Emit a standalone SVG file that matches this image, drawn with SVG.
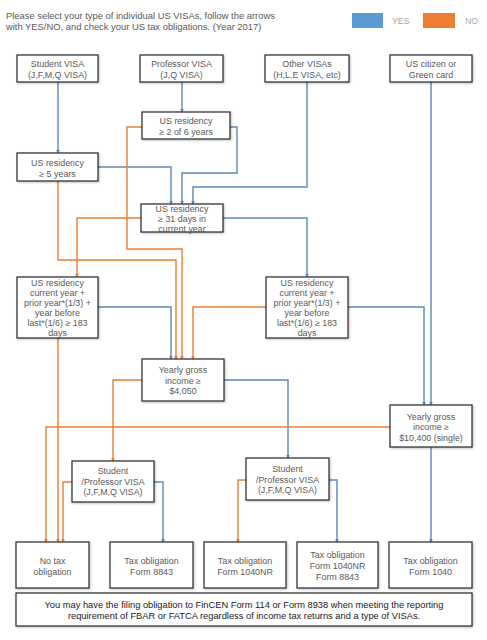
<svg xmlns="http://www.w3.org/2000/svg" width="487" height="640" viewBox="0 0 487 640">
<style>
.box{fill:#fff;stroke:#262626;stroke-width:1.2;filter:url(#sh)}
.t{font-family:"Liberation Sans",Arial,sans-serif;font-size:8.9px;fill:#595959;text-anchor:middle}
.hd{font-family:"Liberation Sans",Arial,sans-serif;font-size:9.4px;fill:#595959}
.ft{font-family:"Liberation Sans",Arial,sans-serif;font-size:9.3px;fill:#1a1a1a;text-anchor:middle}
.y{fill:none;stroke:#5b87bd;stroke-width:1.4;marker-end:url(#ab)}
.n{fill:none;stroke:#ed7d31;stroke-width:1.4;marker-end:url(#ao)}
</style>
<defs>
<filter id="sh" x="-10%" y="-10%" width="130%" height="130%"><feDropShadow dx="1" dy="1" stdDeviation="0.8" flood-color="#000" flood-opacity="0.25"/></filter>
<marker id="ab" viewBox="0 0 6 6" refX="5" refY="3" markerWidth="4" markerHeight="4" orient="auto" markerUnits="userSpaceOnUse"><path d="M0,0 L6,3 L0,6 z" fill="#5b87bd"/></marker>
<marker id="ao" viewBox="0 0 6 6" refX="5" refY="3" markerWidth="4" markerHeight="4" orient="auto" markerUnits="userSpaceOnUse"><path d="M0,0 L6,3 L0,6 z" fill="#ed7d31"/></marker>
</defs>
<rect width="487" height="640" fill="#fff"/>
<g id="header">
<text class="hd" x="6" y="19">Please select your type of individual US VISAs, follow the arrows</text>
<text class="hd" x="6" y="30">with YES/NO, and check your US tax obligations. (Year 2017)</text>
</g>
<g id="legend">
<rect x="352" y="13" width="31" height="15" fill="#5b9bd5"/>
<text x="392" y="24" font-family="Liberation Sans, Arial, sans-serif" font-size="8.8" fill="#a6a6a6">YES</text>
<rect x="423" y="13" width="32" height="15" fill="#ed7d31"/>
<text x="465" y="24" font-family="Liberation Sans, Arial, sans-serif" font-size="8.8" fill="#a6a6a6">NO</text>
</g>
<g id="connectors">
<path class="y" d="M58,82 V153"/>
<path class="y" d="M182,82 V112"/>
<path class="y" d="M230,127 H237 V173 H182 V204"/>
<path class="y" d="M98,167 H171 V204"/>
<path class="y" d="M307,82 V187 H193 V204"/>
<path class="y" d="M223,218 H307 V277"/>
<path class="y" d="M98,307 H171 V359"/>
<path class="y" d="M348,307 H424 V405"/>
<path class="y" d="M431,82 V405"/>
<path class="y" d="M224,380 H288 V458"/>
<path class="y" d="M431,447 V542"/>
<path class="y" d="M154,482 H163 V542"/>
<path class="y" d="M329,480 H337 V542"/>
<path class="n" d="M142,127 H127 V249 H182 V359"/>
<path class="n" d="M58,181 V260 H176 V359"/>
<path class="n" d="M141,218 H77 V277"/>
<path class="n" d="M58,338 V542"/>
<path class="n" d="M266,307 H193 V359"/>
<path class="n" d="M142,380 H113 V461"/>
<path class="n" d="M390,427 H46 V542"/>
<path class="n" d="M72,482 H63 V542"/>
<path class="n" d="M246,480 H238 V542"/>
</g>
<g id="student">
<rect class="box" x="17" y="55" width="81" height="27"/>
<text class="t" x="57.5" y="67">Student VISA</text>
<text class="t" x="57.5" y="77.5">(J,F,M,Q VISA)</text>
</g>
<g id="professor">
<rect class="box" x="140" y="55" width="83" height="27"/>
<text class="t" x="181.5" y="67">Professor VISA</text>
<text class="t" x="181.5" y="77.5">(J,Q VISA)</text>
</g>
<g id="other">
<rect class="box" x="265" y="55" width="84" height="27"/>
<text class="t" x="307" y="67">Other VISAs</text>
<text class="t" x="307" y="77.5">(H,L,E VISA, etc)</text>
</g>
<g id="citizen">
<rect class="box" x="390" y="55" width="82" height="27"/>
<text class="t" x="431" y="67">US citizen or</text>
<text class="t" x="431" y="77.5">Green card</text>
</g>
<g id="res2of6">
<rect class="box" x="142" y="112" width="88" height="27"/>
<text class="t" x="186" y="124">US residency</text>
<text class="t" x="186" y="134.5">≥ 2 of 6 years</text>
</g>
<g id="res5">
<rect class="box" x="17" y="153" width="81" height="28"/>
<text class="t" x="57.5" y="166">US residency</text>
<text class="t" x="57.5" y="176.5">≥ 5 years</text>
</g>
<g id="res31">
<rect class="box" x="141" y="204" width="82" height="28"/>
<text class="t" x="182" y="212">US residency</text>
<text class="t" x="182" y="222">≥ 31 days in</text>
<text class="t" x="182" y="232">current year</text>
</g>
<g id="res183left">
<rect class="box" x="17" y="277" width="81" height="61"/>
<text class="t" x="57.5" y="286">US residency</text>
<text class="t" x="57.5" y="296">current year +</text>
<text class="t" x="57.5" y="306">prior year*(1/3) +</text>
<text class="t" x="57.5" y="316">year before</text>
<text class="t" x="57.5" y="326">last*(1/6) ≥ 183</text>
<text class="t" x="57.5" y="336">days</text>
</g>
<g id="res183right">
<rect class="box" x="266" y="277" width="82" height="61"/>
<text class="t" x="307" y="286">US residency</text>
<text class="t" x="307" y="296">current year +</text>
<text class="t" x="307" y="306">prior year*(1/3) +</text>
<text class="t" x="307" y="316">year before</text>
<text class="t" x="307" y="326">last*(1/6) ≥ 183</text>
<text class="t" x="307" y="336">days</text>
</g>
<g id="income4050">
<rect class="box" x="142" y="359" width="82" height="42"/>
<text class="t" x="183" y="373">Yearly gross</text>
<text class="t" x="183" y="383.5">income ≥</text>
<text class="t" x="183" y="394">$4,050</text>
</g>
<g id="income10400">
<rect class="box" x="390" y="405" width="82" height="42"/>
<text class="t" x="431" y="419.5">Yearly gross</text>
<text class="t" x="431" y="430">income ≥</text>
<text class="t" x="431" y="440.5">$10,400 (single)</text>
</g>
<g id="spvisaleft">
<rect class="box" x="72" y="461" width="82" height="41"/>
<text class="t" x="113" y="474">Student</text>
<text class="t" x="113" y="484.5">/Professor VISA</text>
<text class="t" x="113" y="495">(J,F,M,Q VISA)</text>
</g>
<g id="spvisaright">
<rect class="box" x="246" y="458" width="83" height="42"/>
<text class="t" x="287.5" y="472">Student</text>
<text class="t" x="287.5" y="482.5">/Professor VISA</text>
<text class="t" x="287.5" y="493">(J,F,M,Q VISA)</text>
</g>
<g id="notax">
<rect class="box" x="16" y="542" width="73" height="46"/>
<text class="t" x="52.5" y="564">No tax</text>
<text class="t" x="52.5" y="575">obligation</text>
</g>
<g id="f8843">
<rect class="box" x="110" y="542" width="83" height="46"/>
<text class="t" x="151.5" y="564">Tax obligation</text>
<text class="t" x="151.5" y="575">Form 8843</text>
</g>
<g id="f1040nr">
<rect class="box" x="204" y="542" width="82" height="46"/>
<text class="t" x="245" y="564">Tax obligation</text>
<text class="t" x="245" y="575">Form 1040NR</text>
</g>
<g id="f1040nr8843">
<rect class="box" x="297" y="542" width="81" height="46"/>
<text class="t" x="337.5" y="558">Tax obligation</text>
<text class="t" x="337.5" y="569">Form 1040NR</text>
<text class="t" x="337.5" y="580">Form 8843</text>
</g>
<g id="f1040">
<rect class="box" x="389" y="542" width="83" height="46"/>
<text class="t" x="430.5" y="564">Tax obligation</text>
<text class="t" x="430.5" y="575">Form 1040</text>
</g>
<g id="footer">
<rect class="box" x="16" y="593" width="456" height="33"/>
<text class="ft" x="244" y="608">You may have the filing obligation to FinCEN Form 114 or Form 8938 when meeting the reporting</text>
<text class="ft" x="244" y="619">requirement of FBAR or FATCA regardless of income tax returns and a type of VISAs.</text>
</g>
</svg>
